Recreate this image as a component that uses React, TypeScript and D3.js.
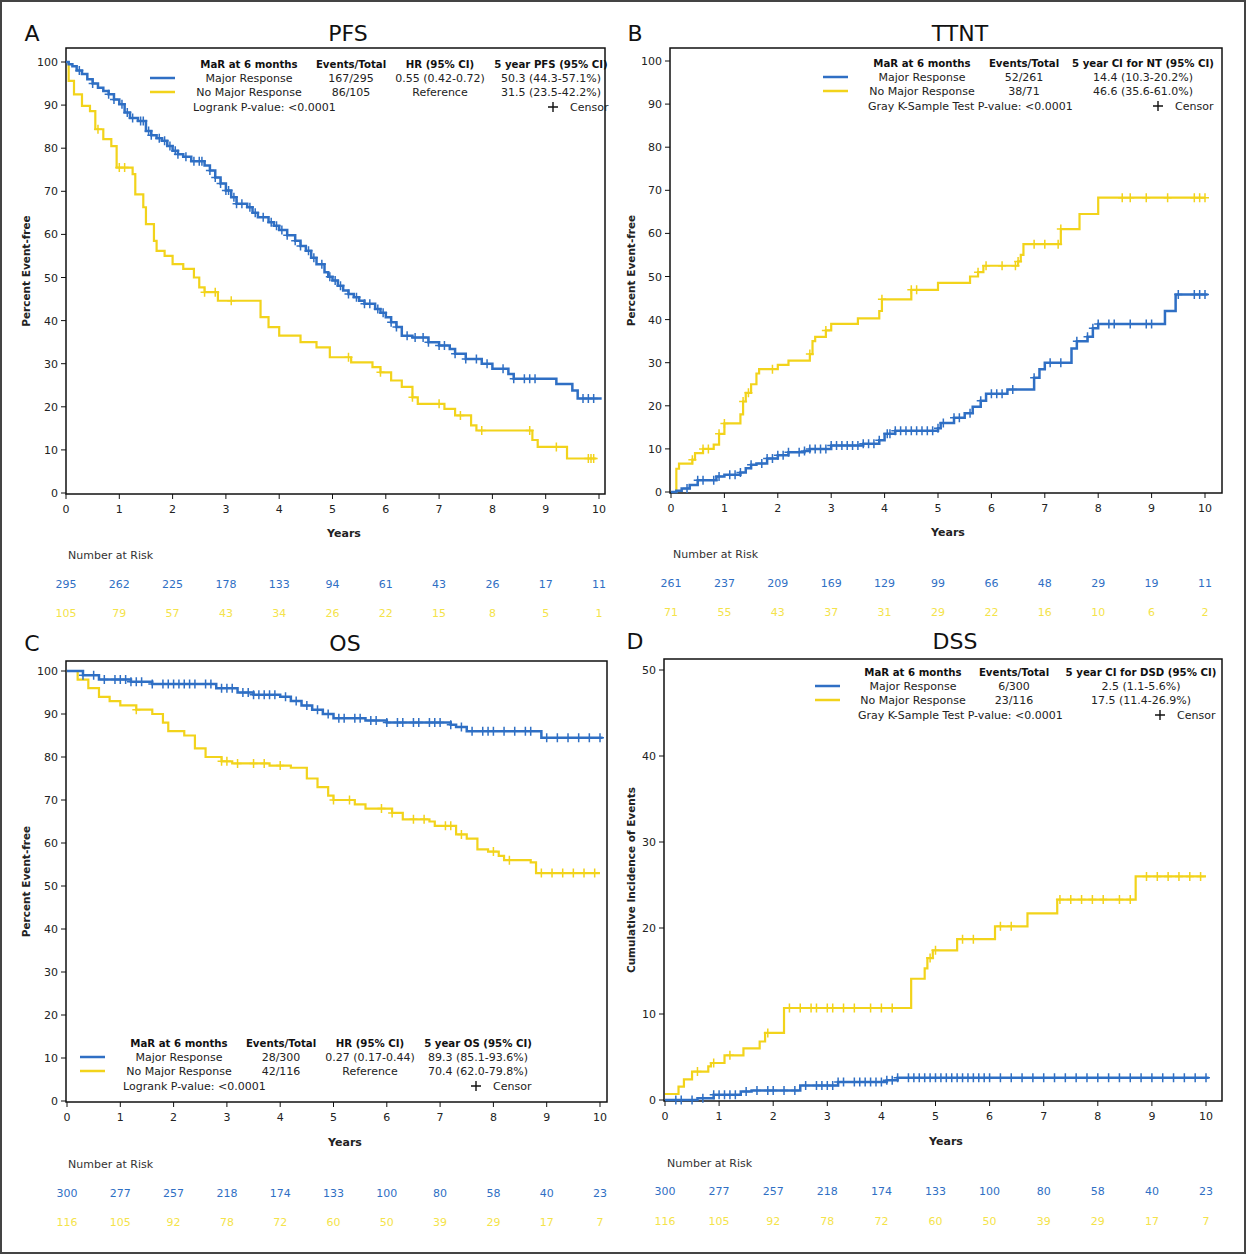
import React from "react";
import * as d3 from "d3";

type Pt = [number, number];

const BLUE = "#2f6fc4";
const YELLOW = "#f2d31b";
const yearTicks = [0, 1, 2, 3, 4, 5, 6, 7, 8, 9, 10];

// ---------- PFS ----------
const pfsBlue: Pt[] = [[0,100],[0.05,99.5],[0.12,99],[0.2,98],[0.3,97.2],[0.4,96],[0.5,95],[0.6,94],[0.7,93.3],[0.8,92.5],[0.9,91.3],[1.0,90.2],[1.1,88.3],[1.2,87],[1.35,86.3],[1.5,84],[1.6,83],[1.7,82.3],[1.8,81.7],[1.9,80.5],[2.0,79.4],[2.1,78.6],[2.2,78],[2.35,77],[2.6,76],[2.7,74.8],[2.8,73.2],[2.9,71.8],[3.0,70.2],[3.1,68.6],[3.2,67.1],[3.4,66.3],[3.5,65],[3.6,64],[3.8,62.8],[3.9,62],[4.0,61],[4.15,59.8],[4.3,58.5],[4.4,57.3],[4.5,56.2],[4.6,54.6],[4.7,53.1],[4.85,51.2],[4.92,50.2],[5.0,49.3],[5.1,48.1],[5.2,47],[5.3,46.2],[5.4,45.4],[5.5,44.6],[5.6,43.9],[5.8,42.7],[5.9,41.8],[6.0,40.8],[6.1,39.6],[6.2,38.5],[6.3,36.5],[6.5,36.1],[6.8,35],[7.0,34.2],[7.2,33.4],[7.3,32.3],[7.5,31.1],[7.8,30],[8.0,28.8],[8.3,27.6],[8.4,26.5],[9.2,25.3],[9.5,23.8],[9.6,21.9],[10.05,21.9]];
const pfsBlueCensor = [0.25,0.5,0.8,0.9,1.05,1.15,1.25,1.4,1.45,1.55,1.6,1.75,1.85,1.95,2.05,2.1,2.25,2.4,2.5,2.55,2.7,2.8,2.9,3.0,3.05,3.15,3.2,3.3,3.45,3.55,3.7,3.85,3.95,4.05,4.15,4.3,4.4,4.55,4.65,4.8,4.95,5.05,5.15,5.3,5.45,5.6,5.7,5.85,5.95,6.1,6.2,6.4,6.55,6.7,6.8,7.0,7.1,7.3,7.5,7.7,7.9,8.2,8.4,8.6,8.7,8.8,9.7,9.8,9.9];
const pfsYellow: Pt[] = [[0,100],[0.05,95.6],[0.15,92.5],[0.3,89.8],[0.45,88.6],[0.55,84.4],[0.7,82.1],[0.85,80.5],[0.95,75.5],[1.25,74],[1.3,69.3],[1.45,66.3],[1.5,62.4],[1.65,58.5],[1.7,56.2],[1.85,55],[2.0,53.1],[2.2,52],[2.4,50],[2.5,47.7],[2.6,46.6],[2.85,44.6],[3.65,40.8],[3.8,38.5],[4.0,36.5],[4.4,35],[4.7,33.8],[4.95,31.5],[5.35,30.3],[5.75,29.2],[5.9,28],[6.1,26.1],[6.3,24.6],[6.5,22.2],[6.6,20.7],[7.1,19.5],[7.3,18],[7.6,15.7],[7.7,14.5],[8.75,12.3],[8.85,10.7],[9.4,8],[9.95,8]];
const pfsYellowCensor = [0.6,1.0,1.1,2.6,2.8,3.1,5.3,5.9,6.5,7.0,7.4,7.8,8.7,9.2,9.8,9.85,9.9];

// ---------- TTNT ----------
const ttntBlue: Pt[] = [[0,0],[0.1,0.3],[0.2,0.8],[0.35,1.6],[0.5,2.7],[0.85,3.6],[1.0,4],[1.3,4.5],[1.4,5.5],[1.5,6.3],[1.6,6.6],[1.8,7.8],[2.0,8.5],[2.2,9.2],[2.5,9.5],[2.6,10],[3.0,10.8],[3.6,11.2],[3.9,12],[4.0,13.5],[4.2,14.2],[5.0,14.8],[5.05,16],[5.3,17.2],[5.5,18.3],[5.65,19.8],[5.8,21.2],[5.9,22.8],[6.3,23.8],[6.8,26.5],[6.9,28.5],[7.0,30],[7.5,33.3],[7.6,35],[7.8,36],[7.9,38],[8.0,39],[9.25,42],[9.45,45.8],[10.05,45.8]];
const ttntBlueCensor = [0.3,0.5,0.6,0.8,0.9,1.1,1.2,1.3,1.5,1.7,1.8,1.9,2.0,2.1,2.2,2.4,2.5,2.6,2.7,2.8,2.9,3.0,3.1,3.2,3.3,3.4,3.5,3.6,3.7,3.8,3.9,4.05,4.1,4.2,4.3,4.4,4.5,4.6,4.7,4.8,4.9,5.0,5.1,5.3,5.4,5.6,5.8,6.0,6.1,6.2,6.4,6.8,7.1,7.3,7.6,7.8,7.9,8.0,8.2,8.3,8.6,8.9,9.0,9.5,9.8,9.9,10.0];
const ttntYellow: Pt[] = [[0,0],[0.1,5.4],[0.15,6.6],[0.4,7.5],[0.45,9],[0.6,10],[0.8,11],[0.9,13.5],[1.0,15.9],[1.3,18],[1.35,21],[1.4,23],[1.5,25],[1.6,27.5],[1.65,28.5],[2.0,29.5],[2.2,30.5],[2.6,32],[2.65,35],[2.7,36],[2.9,37.5],[3.0,39],[3.5,40.3],[3.9,42],[3.95,44.7],[4.5,46.9],[5.0,48.5],[5.6,50],[5.75,51],[5.85,52.5],[6.5,53.5],[6.55,55],[6.6,57.5],[7.3,61],[7.65,64.5],[8.0,68.3],[10.0,68.3]];
const ttntYellowCensor = [0.4,0.6,0.7,0.9,1.0,1.35,1.45,1.9,2.6,2.9,3.95,4.5,4.6,5.75,5.9,6.2,6.45,6.5,6.8,7.0,7.25,7.3,8.45,8.6,8.9,9.3,9.8,9.9,10.0];

// ---------- OS ----------
const osBlue: Pt[] = [[0,100],[0.3,99],[0.6,98],[1.2,97.5],[1.6,97],[2.5,97],[2.8,96],[3.2,95],[3.5,94.5],[4.0,94],[4.2,93],[4.4,92],[4.6,91],[4.8,90],[5.0,89],[5.6,88.5],[6.0,88],[7.2,87.5],[7.3,87],[7.5,86],[8.8,86],[8.9,84.5],[10.05,84.5]];
const osBlueCensor = [0.3,0.5,0.7,0.9,1.0,1.1,1.2,1.3,1.4,1.6,1.8,1.9,2.0,2.1,2.2,2.3,2.4,2.6,2.7,2.9,3.0,3.1,3.3,3.4,3.5,3.6,3.7,3.8,3.9,4.1,4.3,4.5,4.7,4.9,5.1,5.2,5.4,5.5,5.7,5.8,6.0,6.2,6.3,6.5,6.6,6.8,6.9,7.0,7.2,7.4,7.6,7.8,7.9,8.0,8.2,8.4,8.6,8.7,9.0,9.2,9.4,9.6,9.8,10.0];
const osYellow: Pt[] = [[0,100],[0.2,98],[0.4,96],[0.6,94],[0.8,93],[1.0,92],[1.3,91],[1.6,90],[1.8,88],[1.9,86],[2.2,85],[2.4,82],[2.6,80],[2.9,79],[3.1,78.5],[3.8,78],[4.2,77.5],[4.5,75],[4.7,73],[4.9,71],[5.0,70],[5.4,69],[5.6,68],[6.1,67],[6.3,65.5],[6.8,65],[6.9,64],[7.3,62],[7.5,61],[7.7,58.5],[7.9,58],[8.1,57],[8.2,56],[8.7,55.5],[8.8,53],[10.0,53]];
const osYellowCensor = [1.3,2.9,3.0,3.2,3.5,3.7,4.0,5.0,5.3,5.9,6.1,6.5,6.7,7.1,7.2,7.4,8.0,8.3,8.9,9.1,9.3,9.5,9.7,9.9];

// ---------- DSS ----------
const dssBlue: Pt[] = [[0,0],[0.6,0.2],[0.9,0.6],[1.4,1.0],[1.6,1.1],[2.5,1.7],[3.2,2.1],[4.1,2.3],[4.3,2.6],[10.05,2.6]];
const dssBlueCensor = [0.2,0.3,0.5,0.7,0.9,1.0,1.1,1.2,1.3,1.5,1.7,1.9,2.0,2.2,2.4,2.6,2.8,2.9,3.0,3.1,3.2,3.3,3.5,3.6,3.7,3.8,3.9,4.0,4.1,4.2,4.3,4.5,4.6,4.7,4.8,4.9,5.0,5.1,5.2,5.3,5.4,5.5,5.6,5.7,5.8,5.9,6.0,6.2,6.4,6.6,6.8,7.0,7.2,7.4,7.6,7.8,8.0,8.2,8.4,8.6,8.8,9.0,9.2,9.4,9.6,9.8,10.0];
const dssYellow: Pt[] = [[0,0.7],[0.25,1.55],[0.35,2.4],[0.5,3.3],[0.8,3.9],[0.85,4.3],[1.1,5.2],[1.45,6],[1.75,6.8],[1.85,7.8],[2.2,10.7],[4.55,14.1],[4.8,15.3],[4.85,16.5],[4.95,17.4],[5.4,18.7],[6.1,20.2],[6.7,21.7],[7.25,23.3],[8.7,26.0],[10.0,26.0]];
const dssYellowCensor = [0.6,0.9,1.2,1.9,2.3,2.5,2.7,2.8,3.0,3.1,3.3,3.5,3.8,4.0,4.2,4.9,5.0,5.5,5.7,6.2,6.4,7.3,7.5,7.7,7.9,8.1,8.4,8.6,8.9,9.1,9.3,9.5,9.7,9.9];

// ---------- Number at risk ----------
const pfsRiskBlue = [295,262,225,178,133,94,61,43,26,17,11];
const pfsRiskYellow = [105,79,57,43,34,26,22,15,8,5,1];
const ttntRiskBlue = [261,237,209,169,129,99,66,48,29,19,11];
const ttntRiskYellow = [71,55,43,37,31,29,22,16,10,6,2];
const osRiskBlue = [300,277,257,218,174,133,100,80,58,40,23];
const osRiskYellow = [116,105,92,78,72,60,50,39,29,17,7];
const dssRiskBlue = [300,277,257,218,174,133,100,80,58,40,23];
const dssRiskYellow = [116,105,92,78,72,60,50,39,29,17,7];

// ---------- Legend text ----------
const pfsLegendHeaders = ["MaR at 6 months","Events/Total","HR (95% CI)","5 year PFS (95% CI)"];
const pfsLegendRow1 = ["Major Response","167/295","0.55 (0.42-0.72)","50.3 (44.3-57.1%)"];
const pfsLegendRow2 = ["No Major Response","86/105","Reference","31.5 (23.5-42.2%)"];
const ttntLegendHeaders = ["MaR at 6 months","Events/Total","5 year CI for NT (95% CI)"];
const ttntLegendRow1 = ["Major Response","52/261","14.4 (10.3-20.2%)"];
const ttntLegendRow2 = ["No Major Response","38/71","46.6 (35.6-61.0%)"];
const osLegendHeaders = ["MaR at 6 months","Events/Total","HR (95% CI)","5 year OS (95% CI)"];
const osLegendRow1 = ["Major Response","28/300","0.27 (0.17-0.44)","89.3 (85.1-93.6%)"];
const osLegendRow2 = ["No Major Response","42/116","Reference","70.4 (62.0-79.8%)"];
const dssLegendHeaders = ["MaR at 6 months","Events/Total","5 year CI for DSD (95% CI)"];
const dssLegendRow1 = ["Major Response","6/300","2.5 (1.1-5.6%)"];
const dssLegendRow2 = ["No Major Response","23/116","17.5 (11.4-26.9%)"];

const FONT = "'DejaVu Sans', Verdana, sans-serif";

function stepAt(data: Pt[], t: number) {
  let v = data[0][1];
  for (const [x, y] of data) {
    if (x <= t) v = y;
    else break;
  }
  return v;
}

type PanelProps = {
  letter: string; title: string;
  box: [number, number, number, number];
  xr: [number, number]; yr: [number, number]; ymax: number; yticks: number[];
  ylabel: string;
  blue: Pt[]; yellow: Pt[]; blueC: number[]; yellowC: number[];
  riskB: number[]; riskY: number[];
  headers: string[]; row1: string[]; row2: string[];
  legX: number[]; legY: number; lineX: number; pText: string; pX: number; censorX: number;
  titleX: number; titleY: number; letterX: number;
  yearsX: number; yearsY: number; riskTitleX: number; riskTitleY: number; riskY1: number; riskY2: number;
  ylabelX: number;
};

function Panel(p: PanelProps) {
  const x = d3.scaleLinear().domain([0, 10]).range(p.xr);
  const y = d3.scaleLinear().domain([0, p.ymax]).range(p.yr);
  const line = d3.line<Pt>().x(d => x(d[0])).y(d => y(d[1])).curve(d3.curveStepAfter);
  const [bx0, by0, bx1, by1] = p.box;
  const cross = (t: number, data: Pt[], color: string, k: string) => {
    const cx = x(t), cy = y(stepAt(data, t));
    return (
      <path key={k} d={`M${cx - 4},${cy}H${cx + 4}M${cx},${cy - 4.5}V${cy + 4.5}`} stroke={color} strokeWidth={1.5} fill="none" />
    );
  };
  const ly = p.legY;
  return (
    <g fontFamily={FONT}>
      <text x={p.letterX} y={p.titleY} fontSize={22} fill="#111" textAnchor="middle">{p.letter}</text>
      <text x={p.titleX} y={p.titleY} fontSize={22} fill="#111" textAnchor="middle">{p.title}</text>
      <rect x={bx0} y={by0} width={bx1 - bx0} height={by1 - by0} fill="#fff" stroke="#111" strokeWidth={1.5} />
      {p.yticks.map(t => (
        <g key={"y" + t}>
          <line x1={bx0 - 5} x2={bx0} y1={y(t)} y2={y(t)} stroke="#111" />
          <text x={bx0 - 8} y={y(t) + 4} fontSize={11} textAnchor="end" fill="#222">{t}</text>
        </g>
      ))}
      {yearTicks.map(t => (
        <g key={"x" + t}>
          <line x1={x(t)} x2={x(t)} y1={by1} y2={by1 + 5} stroke="#111" />
          <text x={x(t)} y={by1 + 19} fontSize={11} textAnchor="middle" fill="#222">{t}</text>
        </g>
      ))}
      <text transform={`translate(${p.ylabelX},${(by0 + by1) / 2}) rotate(-90)`} fontSize={10.5} fontWeight="bold" textAnchor="middle" fill="#222">{p.ylabel}</text>
      <text x={p.yearsX} y={p.yearsY} fontSize={11} fontWeight="bold" textAnchor="middle" fill="#222">Years</text>
      <path d={line(p.yellow) || ""} stroke={YELLOW} strokeWidth={2.2} fill="none" />
      <path d={line(p.blue) || ""} stroke={BLUE} strokeWidth={2.5} fill="none" />
      {p.yellowC.map((t, i) => cross(t, p.yellow, YELLOW, "yc" + i))}
      {p.blueC.map((t, i) => cross(t, p.blue, BLUE, "bc" + i))}
      <line x1={p.lineX} x2={p.lineX + 25} y1={ly + 14} y2={ly + 14} stroke={BLUE} strokeWidth={2.5} />
      <line x1={p.lineX} x2={p.lineX + 25} y1={ly + 28} y2={ly + 28} stroke={YELLOW} strokeWidth={2.5} />
      {p.headers.map((h, i) => (
        <text key={"h" + i} x={p.legX[i]} y={ly + 4} fontSize={10.2} fontWeight="bold" textAnchor="middle" fill="#111">{h}</text>
      ))}
      {p.row1.map((h, i) => (
        <text key={"r1" + i} x={p.legX[i]} y={ly + 18} fontSize={11} textAnchor="middle" fill="#222">{h}</text>
      ))}
      {p.row2.map((h, i) => (
        <text key={"r2" + i} x={p.legX[i]} y={ly + 32} fontSize={11} textAnchor="middle" fill="#222">{h}</text>
      ))}
      <text x={p.pX} y={ly + 47} fontSize={11} fill="#222">{p.pText}</text>
      <path d={`M${p.censorX - 5},${ly + 43}H${p.censorX + 5}M${p.censorX},${ly + 38}V${ly + 48}`} stroke="#111" strokeWidth={1.4} />
      <text x={p.censorX + 17} y={ly + 47} fontSize={11} fill="#222">Censor</text>
      <text x={p.riskTitleX} y={p.riskTitleY} fontSize={11} fill="#333">Number at Risk</text>
      {p.riskB.map((n, i) => (
        <text key={"rb" + i} x={x(yearTicks[i])} y={p.riskY1} fontSize={11} textAnchor="middle" fill={BLUE}>{n}</text>
      ))}
      {p.riskY.map((n, i) => (
        <text key={"ry" + i} x={x(yearTicks[i])} y={p.riskY2} fontSize={11} textAnchor="middle" fill="#f4e34a">{n}</text>
      ))}
    </g>
  );
}

export default function App() {
  return (
    <svg width={1246} height={1254} style={{ position: "absolute", left: 0, top: 0, background: "#fff" }}>
      <rect x={1} y={1} width={1244} height={1252} fill="#fff" stroke="#444" strokeWidth={2} />
      <Panel letter="A" title="PFS" box={[66, 48, 605, 494]} xr={[66, 599]} yr={[493, 62]} ymax={100}
        yticks={[0,10,20,30,40,50,60,70,80,90,100]} ylabel="Percent Event-free"
        blue={pfsBlue} yellow={pfsYellow} blueC={pfsBlueCensor} yellowC={pfsYellowCensor}
        riskB={pfsRiskBlue} riskY={pfsRiskYellow}
        headers={pfsLegendHeaders} row1={pfsLegendRow1} row2={pfsLegendRow2}
        legX={[249, 351, 440, 551]} legY={64} lineX={150} pText="Logrank P-value: <0.0001" pX={193} censorX={553}
        titleX={348} titleY={41} letterX={32} yearsX={344} yearsY={537} riskTitleX={68} riskTitleY={559} riskY1={588} riskY2={617} ylabelX={30} />
      <Panel letter="B" title="TTNT" box={[670, 48, 1222, 493]} xr={[671, 1205]} yr={[492, 61]} ymax={100}
        yticks={[0,10,20,30,40,50,60,70,80,90,100]} ylabel="Percent Event-free"
        blue={ttntBlue} yellow={ttntYellow} blueC={ttntBlueCensor} yellowC={ttntYellowCensor}
        riskB={ttntRiskBlue} riskY={ttntRiskYellow}
        headers={ttntLegendHeaders} row1={ttntLegendRow1} row2={ttntLegendRow2}
        legX={[922, 1024, 1143]} legY={63} lineX={823} pText="Gray K-Sample Test P-value: <0.0001" pX={868} censorX={1158}
        titleX={960} titleY={41} letterX={635} yearsX={948} yearsY={536} riskTitleX={673} riskTitleY={558} riskY1={587} riskY2={616} ylabelX={635} />
      <Panel letter="C" title="OS" box={[66, 661, 607, 1102]} xr={[67, 600]} yr={[1101, 671]} ymax={100}
        yticks={[0,10,20,30,40,50,60,70,80,90,100]} ylabel="Percent Event-free"
        blue={osBlue} yellow={osYellow} blueC={osBlueCensor} yellowC={osYellowCensor}
        riskB={osRiskBlue} riskY={osRiskYellow}
        headers={osLegendHeaders} row1={osLegendRow1} row2={osLegendRow2}
        legX={[179, 281, 370, 478]} legY={1043} lineX={80} pText="Logrank P-value: <0.0001" pX={123} censorX={476}
        titleX={345} titleY={651} letterX={32} yearsX={345} yearsY={1146} riskTitleX={68} riskTitleY={1168} riskY1={1197} riskY2={1226} ylabelX={30} />
      <Panel letter="D" title="DSS" box={[664, 659, 1222, 1101]} xr={[665, 1206]} yr={[1100, 670]} ymax={50}
        yticks={[0,10,20,30,40,50]} ylabel="Cumulative Incidence of Events"
        blue={dssBlue} yellow={dssYellow} blueC={dssBlueCensor} yellowC={dssYellowCensor}
        riskB={dssRiskBlue} riskY={dssRiskYellow}
        headers={dssLegendHeaders} row1={dssLegendRow1} row2={dssLegendRow2}
        legX={[913, 1014, 1141]} legY={672} lineX={815} pText="Gray K-Sample Test P-value: <0.0001" pX={858} censorX={1160}
        titleX={955} titleY={649} letterX={635} yearsX={946} yearsY={1145} riskTitleX={667} riskTitleY={1167} riskY1={1195} riskY2={1225} ylabelX={635} />
    </svg>
  );
}
